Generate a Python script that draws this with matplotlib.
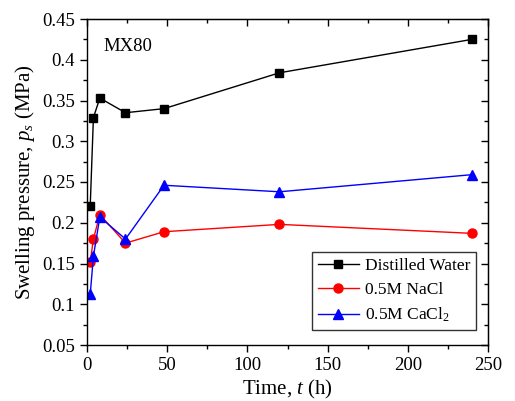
import matplotlib
matplotlib.use("Agg")
import matplotlib.pyplot as plt
from matplotlib.ticker import MultipleLocator

# data
t_h       = [2, 4, 8, 24, 48, 120, 240]
p_water   = [0.220, 0.329, 0.353, 0.335, 0.340, 0.384, 0.425]
p_nacl    = [0.152, 0.180, 0.210, 0.175, 0.189, 0.198, 0.187]
p_cacl2   = [0.112, 0.159, 0.207, 0.180, 0.246, 0.238, 0.259]

plt.rcParams["font.family"] = ["Liberation Serif", "DejaVu Serif"]
plt.rcParams["mathtext.fontset"] = "custom"
plt.rcParams["mathtext.rm"] = "Liberation Serif"
plt.rcParams["mathtext.it"] = "Liberation Serif:italic"

fig = plt.figure(figsize=(5.15, 4.01), dpi=100)
ax = fig.add_axes([87 / 515, 1 - 345 / 401, (488 - 87) / 515, (345 - 19) / 401])

ax.plot(t_h, p_water, "-s", color="black", lw=1, ms=6, label="Distilled Water")
ax.plot(t_h, p_nacl, "-o", color="red", lw=1, ms=6.5, label="0.5M NaCl")
ax.plot(t_h, p_cacl2, "-^", color="blue", lw=1, ms=6.5, label=r"0.5M CaCl$_2$")

ax.set_xlim(0, 250)
ax.set_ylim(0.05, 0.45)
ax.xaxis.set_major_locator(MultipleLocator(50))
ax.xaxis.set_minor_locator(MultipleLocator(25))
ax.yaxis.set_minor_locator(MultipleLocator(0.025))
ax.set_yticks([0.05, 0.1, 0.15, 0.2, 0.25, 0.3, 0.35, 0.4, 0.45])
ax.set_yticklabels(["0.05", "0.1", "0.15", "0.2", "0.25", "0.3", "0.35", "0.4", "0.45"])

ax.tick_params(which="both", direction="out", labelsize=13.5, width=1)
ax.tick_params(which="major", length=5)
ax.tick_params(which="minor", length=3)
# mirrored ticks on top/right, pointing inwards
sec_x = ax.secondary_xaxis("top")
sec_x.xaxis.set_major_locator(MultipleLocator(50))
sec_x.xaxis.set_minor_locator(MultipleLocator(25))
sec_x.tick_params(which="both", direction="in", labeltop=False, width=1)
sec_x.tick_params(which="major", length=5)
sec_x.tick_params(which="minor", length=3)
sec_y = ax.secondary_yaxis("right")
sec_y.yaxis.set_major_locator(MultipleLocator(0.05))
sec_y.yaxis.set_minor_locator(MultipleLocator(0.025))
sec_y.tick_params(which="both", direction="in", labelright=False, width=1)
sec_y.tick_params(which="major", length=5)
sec_y.tick_params(which="minor", length=3)

for s in ax.spines.values():
    s.set_linewidth(1)

ax.set_xlabel(r"Time, $\it{t}$ (h)", fontsize=15, labelpad=3)
ax.set_ylabel(r"Swelling pressure, $\it{p}_s$ (MPa)", fontsize=15, labelpad=4)
ax.text(10, 0.416, "MX80", fontsize=13.5, va="center", ha="left")

leg = ax.legend(loc="lower right", bbox_to_anchor=(0.97, 0.045), fontsize=12.5,
                frameon=True, fancybox=False, edgecolor="black", borderpad=0.35,
                labelspacing=0.45, handlelength=2.4, handletextpad=0.3,
                borderaxespad=0)
leg.get_frame().set_linewidth(1)

fig.savefig("out.png", dpi=100)
